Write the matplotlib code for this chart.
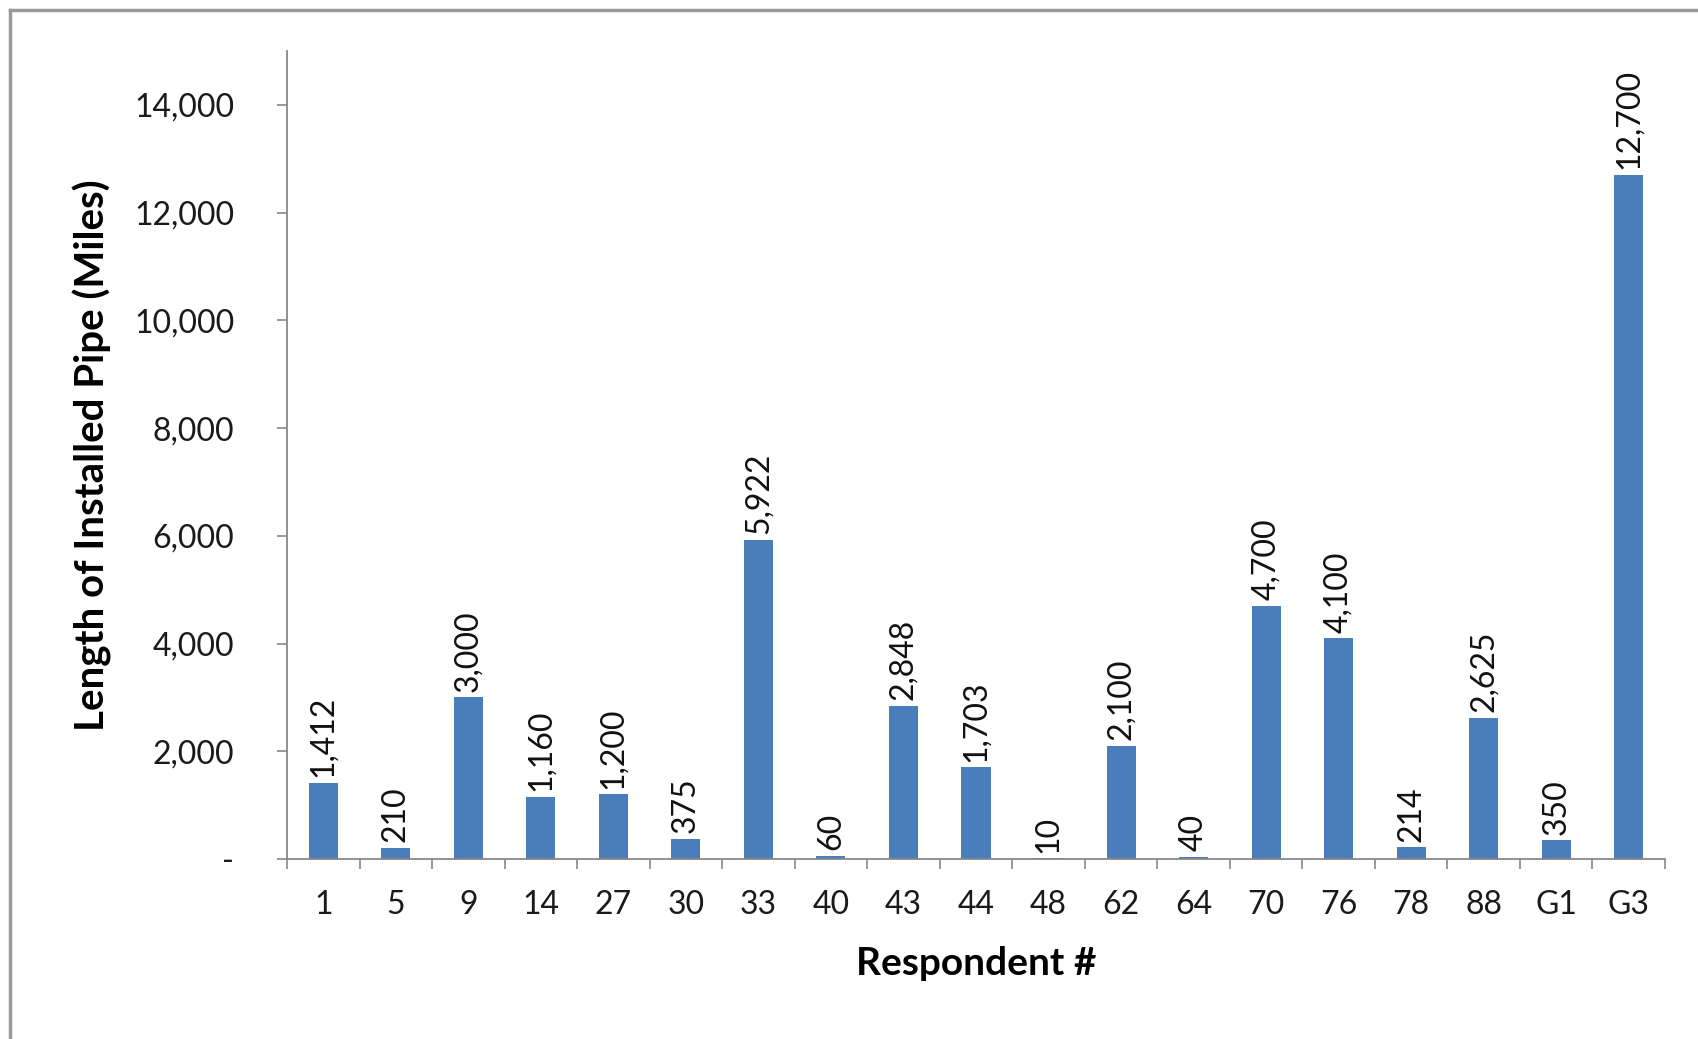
import matplotlib.pyplot as plt
from matplotlib.lines import Line2D
from matplotlib.ticker import FuncFormatter

respondents = ['1', '5', '9', '14', '27', '30', '33', '40', '43', '44',
               '48', '62', '64', '70', '76', '78', '88', 'G1', 'G3']
miles = [1412, 210, 3000, 1160, 1200, 375, 5922, 60, 2848, 1703,
         10, 2100, 40, 4700, 4100, 214, 2625, 350, 12700]

plt.rcParams['font.family'] = ['Lato', 'DejaVu Sans']

W, H = 1699, 1039
x0, x1, y_top, y_bot = 287, 1665, 51, 859
fig = plt.figure(figsize=(W / 100, H / 100), dpi=100)
ax = fig.add_axes([x0 / W, 1 - y_bot / H, (x1 - x0) / W, (y_bot - y_top) / H])

x = range(len(respondents))
ax.bar(x, miles, width=0.4, color='#4A7EBB', zorder=2)

for xi, v in zip(x, miles):
    ax.annotate(f'{v:,}', (xi, v), xytext=(0, 4), textcoords='offset points',
                rotation=90, ha='center', va='bottom', fontsize=23, color='#111111')

ax.set_xlim(-0.5, len(respondents) - 0.5)
ax.set_ylim(0, 15000)
ax.set_yticks(range(0, 15000, 2000))
ax.yaxis.set_major_formatter(FuncFormatter(lambda v, p: '-' if v == 0 else f'{int(v):,}'))
ax.set_xticks([i + 0.5 for i in range(-1, len(respondents))], minor=False)
ax.set_xticklabels([])
ax.set_xticks(list(x), minor=True)
ax.set_xticklabels(respondents, minor=True)

ax.tick_params(axis='x', which='major', length=7, width=1.2, color='#888888', direction='out')
ax.tick_params(axis='x', which='minor', length=0, pad=22, labelsize=23, labelcolor='#1a1a1a')
ax.tick_params(axis='y', length=7, width=1.2, color='#888888', direction='out',
               pad=31, labelsize=23, labelcolor='#1a1a1a')

for side in ['top', 'right']:
    ax.spines[side].set_visible(False)
for side in ['left', 'bottom']:
    ax.spines[side].set_color('#888888')
    ax.spines[side].set_linewidth(1.3)

ax.set_ylabel('Length of Installed Pipe (Miles)', fontsize=29, fontweight='bold')
ax.yaxis.set_label_coords((112 - x0) / (x1 - x0), 0.5)
ax.set_xlabel('Respondent #', fontsize=28, fontweight='bold')
ax.xaxis.set_label_coords((976 - x0) / (x1 - x0), -(946 - y_bot) / (y_bot - y_top))

# frame lines along the left and top edges of the chart area
fig.add_artist(Line2D([10 / W, 10 / W], [0, 1 - 10 / H], color='#9a9a9a', lw=2.5))
fig.add_artist(Line2D([10 / W, 1], [1 - 10 / H, 1 - 10 / H], color='#9a9a9a', lw=2.5))

fig.savefig('out.png', dpi=100)
